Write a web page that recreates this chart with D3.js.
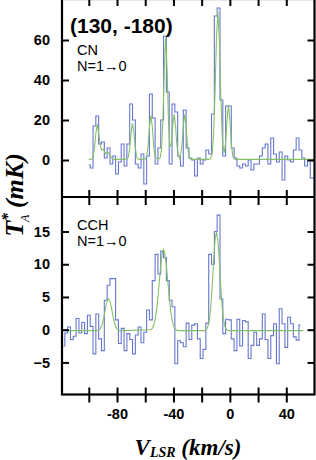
<!DOCTYPE html>
<html>
<head>
<meta charset="utf-8">
<script src="https://cdn.jsdelivr.net/npm/d3@7"></script>
<style>
body { margin: 0; background: #fff; }
svg { display: block; }
</style>
</head>
<body>
<script>
var width = 316,
    height = 460;

// CN N=1-0 spectrum (km/s, mK)
var cnVel = [-100,-98,-96,-94,-92,-90,-88,-86,-84,-82,
             -80,-78,-76,-74,-72,-70,-68,-66,-64,-62,
             -60,-58,-56,-54,-52,-50,-48,-46,-44,-42,
             -40,-38,-36,-34,-32,-30,-28,-26,-24,-22,
             -20,-18,-16,-14,-12,-10,-8,-6,-4,-2,
             0,2,4,6,8,10,12,14,16,18,
             20,22,24,26,28,30,32,34,36,38,
             40,42,44,46,48,50,52,54,56,58,
             60];
var cnTa = [-2.5,-4,17,22,8,9,1,6,-2,2,
            -7,-1,8,-3,8,28,20,-2,-4,3,
            -12,2,33,21,-2,6,20,62,34,-2,
            28,24,2,-3,25,6,1,0,-8,1,
            -2,0,5,3,23,72,76,30,2,27,
            27,6,1,-3,-4,-2,-3,0,-5,-2,
            -2,2,6,8,-2,11,3,-1,4,-10,
            2,0,-1,5,11,5,1,-3,0,-9,
            -9];

// CN gaussian fit
var cnFitVel = [-100,-98,-97,-96,-95,-94,-93,-92,-91,-90,-89,-88,-87,-86,-85,-84,-83,-82,
                -74,-73,-72,-71,-70,-69,-68,-67,-66,-65,-64,
                -61,-60,-59,-58,-57,-56,-55,-54,-53,-52,
                -51,-50,-49.5,-48.5,-47.5,-46.5,-45.5,-44.5,-43.5,-42.5,-41.5,-40.5,-39.5,-38.5,-37.5,-36.5,-35.5,
                -35,-34,-33,-32,-31,-30,-29,-28,-27,
                -15,-14,-13.5,-12.5,-11.5,-10.5,-9.5,-8.5,-7.5,-6.5,-5.5,-5,-4,-3,-2,-1,0,1,2,3,4,60];
var cnFitTa = [0.3,0.4,1.5,5.6,13.3,17.8,13.5,7.5,5,5.5,4.5,3.2,3.8,3.5,2.5,1.2,0.5,0.3,
               0.3,0.5,1.5,5.8,13.7,18.3,13.7,5.8,1.5,0.5,0.3,
               0.3,0.5,1.8,7,16.7,22.3,16.7,7,1.8,0.8,
               0.5,0.6,1,4.6,19,45.7,61.3,45.7,19,6.5,7.7,17,22.8,17,7,1.9,0.6,
               1.9,7.2,17,22.8,17,7.2,1.9,0.5,0.3,
               0.3,0.5,0.9,3.6,13,34.2,61,74.3,61,34.2,13,7.3,3.6,8.8,20.4,27.3,20.4,8.6,2.2,0.55,0.3,0.3];

// CCH N=1-0 spectrum
var cchVel = [-118,-116,-114,-112,-110,-108,-106,-104,-102,-100,
              -98,-96,-94,-92,-90,-88,-86,-84,-82,-80,
              -78,-76,-74,-72,-70,-68,-66,-64,-62,-60,
              -58,-56,-54,-52,-50,-48,-46,-44,-42,-40,
              -38,-36,-34,-32,-30,-28,-26,-24,-22,-20,
              -18,-16,-14,-12,-10,-8,-6,-4,-2,0,
              2,4,6,8,10,12,14,16,18,20,
              22,24,26,28,30,32,34,36,38,40,
              42,44,46,48,50];
var cchTa = [-2.5,-0.5,0.4,-1.5,-1,1.7,-0.5,1.1,-0.6,2.2,
             0.5,-3.7,2.4,-1.4,-3.2,4.5,6.8,7.8,7.8,1.5,
             -2.1,0.2,-3.2,-0.6,-1.5,-3.7,-0.8,0.4,-2,-0.4,
             3,1.5,7.5,11.5,8.5,12,11,7.5,4.5,3.5,
             -5.2,-1.7,-2,-2.6,1,-1.5,0.7,0.9,-1.4,-4.4,
             -3,1,11.5,10,15,17.5,4.7,-0.6,1.6,1.5,
             -1.4,-3.2,1.6,-2.5,1.4,1.2,-4.4,-2.4,-0.4,-2.4,
             -1.4,2.4,-1.5,-4.4,-0.9,0.9,-5.2,3.2,0.9,-2.7,
             1.9,0.9,-1.1,-1.6,0.7];

// CCH gaussian fit
var cchFitVel = [-119,-94,-93,-92,-91,-90,-89,-88,-87,-86,-85,-84,-83,-82,-81,-80,-79,-78,
                 -56,-55,-54,-53,-52,-51,-50,-49,-48,-47,-46,-45,-44,-43,-42,-41,-40,-39,-38,-37,
                 -17.5,-16.5,-15.5,-14.5,-13.5,-12.5,-11.5,-10.5,-9.5,-8.5,-7.5,-6.5,-5.5,-4.5,-3.5,-2.5,-1.5,52];
var cchFitTa = [-0.15,-0.15,-0.05,0.12,0.51,1.21,2.24,3.41,4.37,4.75,4.37,3.41,2.24,1.21,0.51,0.12,-0.05,-0.15,
                -0.01,0.21,0.67,1.52,2.94,4.95,7.38,9.78,11.58,12.25,11.58,9.78,7.38,4.95,2.94,1.52,0.67,0.21,-0.01,-0.15,
                -0.15,0.06,0.51,1.57,3.61,6.77,10.53,13.7,14.95,13.7,10.53,6.77,3.61,1.57,0.51,0.06,-0.15,-0.15];

var velTicks = [-100,-80,-60,-40,-20,0,20,40];
var velLabels = [-80,-40,0,40];
var cnTicks = [0,20,40,60];
var cchTicks = [-5,0,5,10,15];

var plotLeft = 62, plotRight = 314.5, plotTop = -1, plotMid = 197, plotBottom = 394.5;

var x = d3.scaleLinear().domain([-119, 60]).range([plotLeft, plotRight]);
var yTop = d3.scaleLinear().domain([-18.5, 80]).range([plotMid, 0]);
var yBot = d3.scaleLinear().domain([-9.9, 20.27]).range([plotBottom, plotMid]);

var svg = d3.select("body").append("svg")
    .attr("width", width)
    .attr("height", height);

var defs = svg.append("defs");
defs.append("clipPath").attr("id", "clipTop")
  .append("rect").attr("x", plotLeft).attr("y", 0)
  .attr("width", plotRight - plotLeft).attr("height", plotMid);
defs.append("clipPath").attr("id", "clipBot")
  .append("rect").attr("x", plotLeft).attr("y", plotMid)
  .attr("width", plotRight - plotLeft).attr("height", plotBottom - plotMid);

function drawPanel(yScale, vel, ta, fitVel, fitTa, clip) {
  var g = svg.append("g").attr("clip-path", "url(#" + clip + ")");
  var step = d3.line()
      .curve(d3.curveStep)
      .x(function(d) { return x(d[0]); })
      .y(function(d) { return yScale(d[1]); });
  var smooth = d3.line()
      .x(function(d) { return x(d[0]); })
      .y(function(d) { return yScale(d[1]); });
  g.append("path")
    .datum(d3.zip(vel, ta))
    .attr("d", step)
    .attr("fill", "none")
    .attr("stroke", "#6577cf")
    .attr("stroke-width", 1.1);
  g.append("path")
    .datum(d3.zip(fitVel, fitTa))
    .attr("d", smooth)
    .attr("fill", "none")
    .attr("stroke", "#86c066")
    .attr("stroke-width", 1.1);
}

drawPanel(yTop, cnVel, cnTa, cnFitVel, cnFitTa, "clipTop");
drawPanel(yBot, cchVel, cchTa, cchFitVel, cchFitTa, "clipBot");

// y axes, ticks inward on both sides
function yAxes(yScale, ticks) {
  svg.append("g")
    .attr("transform", "translate(" + plotLeft + ",0)")
    .call(d3.axisLeft(yScale).tickValues(ticks).tickSize(-7).tickPadding(12))
    .call(function(g) { g.select(".domain").remove(); });
  svg.append("g")
    .attr("transform", "translate(" + plotRight + ",0)")
    .call(d3.axisRight(yScale).tickValues(ticks).tickSize(-7).tickFormat(""))
    .call(function(g) { g.select(".domain").remove(); });
}
yAxes(yTop, cnTicks);
yAxes(yBot, cchTicks);

// x ticks: bottom (labelled), middle (crossing), top
svg.append("g")
  .attr("transform", "translate(0," + plotBottom + ")")
  .call(d3.axisBottom(x).tickValues(velTicks).tickSize(8).tickPadding(6)
    .tickFormat(function(d) { return velLabels.indexOf(d) >= 0 ? d : ""; }))
  .call(function(g) {
    g.select(".domain").remove();
    g.selectAll(".tick line").attr("y1", -7);
  });

svg.append("g")
  .attr("transform", "translate(0," + plotMid + ")")
  .call(d3.axisBottom(x).tickValues(velTicks).tickSize(8).tickFormat(""))
  .call(function(g) {
    g.select(".domain").remove();
    g.selectAll(".tick line").attr("y1", -7);
  });

svg.append("g")
  .call(d3.axisBottom(x).tickValues(velTicks).tickSize(6).tickFormat(""))
  .call(function(g) { g.select(".domain").remove(); });

svg.selectAll(".tick line").attr("stroke", "#000").attr("stroke-width", 2);
svg.selectAll(".tick text")
  .attr("fill", "#000")
  .style("font-family", "'Liberation Sans', Arial, sans-serif")
  .style("font-weight", "bold")
  .style("font-size", "14.5px");

// frame
svg.append("rect")
  .attr("x", plotLeft).attr("y", plotTop)
  .attr("width", plotRight - plotLeft).attr("height", plotBottom - plotTop)
  .attr("fill", "none").attr("stroke", "#000").attr("stroke-width", 2.2);
svg.append("line")
  .attr("x1", plotLeft).attr("x2", plotRight)
  .attr("y1", plotMid).attr("y2", plotMid)
  .attr("stroke", "#000").attr("stroke-width", 2.2);

// panel labels
var sans = "'Liberation Sans', Arial, sans-serif";
svg.append("text").attr("x", 70).attr("y", 33)
  .style("font-family", sans).style("font-weight", "bold").style("font-size", "21px")
  .text("(130, -180)");

function species(name, y0) {
  svg.append("text").attr("x", 77).attr("y", y0)
    .style("font-family", sans).style("font-size", "14.5px").text(name);
  svg.append("text").attr("x", 77).attr("y", y0 + 16)
    .style("font-family", sans).style("font-size", "14.5px").text("N=1\u21920");
}
species("CN", 55);
species("CCH", 230);

// axis titles
var serif = "'Liberation Serif', 'Times New Roman', serif";
var xt = svg.append("text")
  .attr("x", 188).attr("y", 455)
  .attr("text-anchor", "middle")
  .style("font-family", serif).style("font-weight", "bold")
  .style("font-style", "italic").style("font-size", "23px");
xt.append("tspan").text("V");
xt.append("tspan").attr("dy", 2).style("font-size", "14px").text("LSR");
xt.append("tspan").attr("dy", -2).text(" (km/s)");

var yt = svg.append("text")
  .attr("transform", "translate(23,195) rotate(-90)")
  .attr("text-anchor", "middle")
  .style("font-family", serif).style("font-weight", "bold")
  .style("font-style", "italic").style("font-size", "26px");
yt.append("tspan").text("T");
yt.append("tspan").attr("dy", -10).style("font-size", "16px").text("*");
yt.append("tspan").attr("dx", -9).attr("dy", 16).style("font-size", "12px").style("font-weight", "normal").text("A");
yt.append("tspan").attr("dy", -6).text(" (mK)");
</script>
</body>
</html>
